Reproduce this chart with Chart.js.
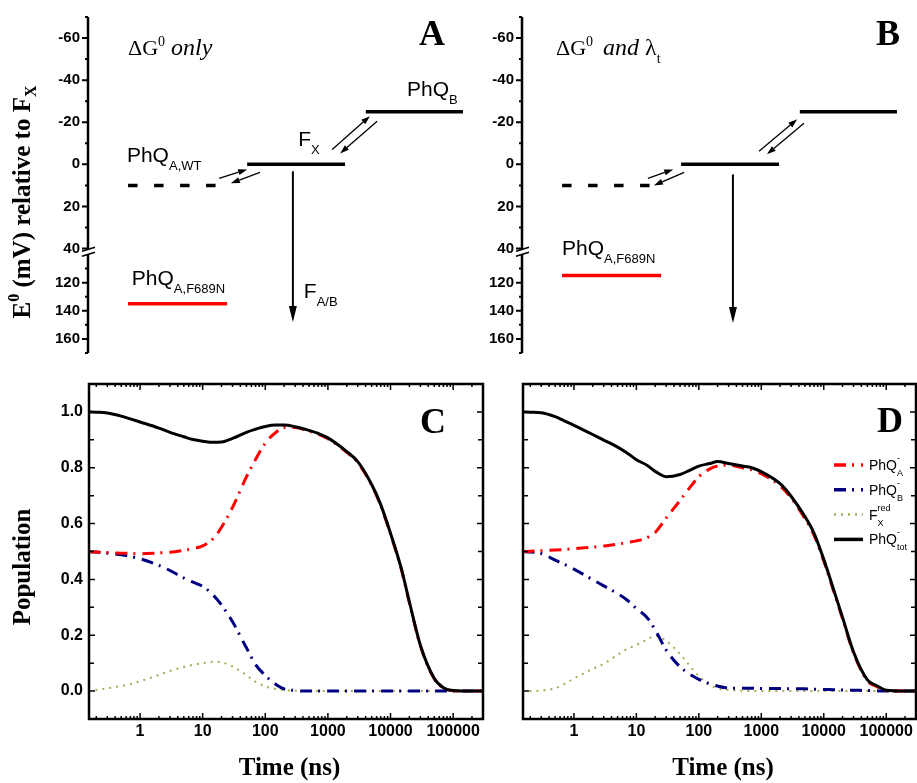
<!DOCTYPE html>
<html>
<head>
<meta charset="utf-8">
<title>PhQ energetics and population kinetics</title>
<script src="https://cdn.jsdelivr.net/npm/chart.js@4.4.1/dist/chart.umd.min.js"></script>
<style>
  html, body { margin: 0; padding: 0; background: #fff; }
  #wrap { position: relative; width: 917px; height: 783px; overflow: hidden; }
  #wrap canvas { position: absolute; }
</style>
</head>
<body>
<div id="wrap">
  <canvas id="panelA" width="466" height="365" style="left:0;top:0"></canvas>
  <canvas id="panelB" width="451" height="365" style="left:466px;top:0"></canvas>
  <canvas id="panelC" width="490" height="418" style="left:0;top:365px"></canvas>
  <canvas id="panelD" width="427" height="418" style="left:490px;top:365px"></canvas>
</div>
<script>
// ---- energy diagrams (A, B) ----
// reaction coordinate 0..10 of each level's ends (same in A and B)
const levelNames = [['PhQ', 'A,WT'], ['F', 'X'], ['PhQ', 'B'], ['PhQ', 'A,F689N']];
const levelFrom = [1.06, 4.21, 7.35, 1.06];
const levelTo = [3.40, 6.80, 9.92, 3.68];
const energyA = [10, 0, -25, 135];   // mV relative to F_X, dG0 only
const energyB = [10, 0, -25, 115];   // mV, dG0 and lambda_t
const eTicksUpper = [-60, -40, -20, 0, 20, 40];
const eTicksLower = [120, 140, 160];
// small equilibrium arrows: [x1, E1, x2, E2]
const arrowsA = [[3.47, 6.7, 4.21, 2.4], [4.55, 3.8, 3.78, 9.0], [6.46, -7.1, 7.46, -22.9], [7.65, -20.5, 6.67, -5.2]];
const arrowsB = [[3.33, 6.7, 4.00, 2.4], [4.29, 3.8, 3.49, 10.0], [6.27, -6.2, 7.28, -21.4], [7.46, -19.5, 6.48, -4.8]];
// forward transfer to F_A/B: [x, E start, E end]
const transferA = [5.42, 3.3, 148];
const transferB = [5.58, 4.8, 148.6];

// ---- population kinetics (C, D) ----
const timeNs = [0.15, 0.2, 0.3, 0.5, 0.7, 1, 2, 3, 5, 7, 10, 15, 20, 30, 50, 70, 100, 150, 200, 300,
  500, 700, 1000, 2000, 3000, 5000, 7000, 10000, 15000, 20000, 30000, 50000, 70000, 100000, 200000, 300000];
const seriesMain = ['PhQ', 'PhQ', 'F', 'PhQ'];
const seriesSub = ['A', 'B', 'X', 'tot'];
const seriesSup = ['-', '-', 'red', '-'];

const phqA_C = [0.500, 0.498, 0.496, 0.494, 0.493, 0.492, 0.495, 0.497, 0.504, 0.510, 0.520, 0.548, 0.587, 0.658, 0.767, 0.830, 0.888, 0.928, 0.944, 0.944,
  0.931, 0.920, 0.904, 0.855, 0.819, 0.737, 0.664, 0.562, 0.433, 0.317, 0.162, 0.044, 0.011, 0.001, 0, 0];
const phqB_C = [0.500, 0.498, 0.494, 0.488, 0.482, 0.474, 0.450, 0.432, 0.405, 0.390, 0.375, 0.342, 0.308, 0.248, 0.155, 0.095, 0.056, 0.023, 0.008, 0.002,
  0, 0, 0, 0, 0, 0, 0, 0, 0, 0, 0, 0, 0, 0, 0, 0];
const fx_C = [0, 0.004, 0.010, 0.018, 0.025, 0.035, 0.058, 0.072, 0.086, 0.094, 0.100, 0.105, 0.103, 0.088, 0.057, 0.033, 0.017, 0.007, 0.003, 0.001,
  0, 0, 0, 0, 0, 0, 0, 0, 0, 0, 0, 0, 0, 0, 0, 0];
const tot_C = [1.000, 0.999, 0.996, 0.985, 0.975, 0.964, 0.942, 0.927, 0.911, 0.901, 0.895, 0.891, 0.892, 0.905, 0.927, 0.938, 0.948, 0.953, 0.953, 0.947,
  0.934, 0.923, 0.907, 0.858, 0.822, 0.740, 0.667, 0.565, 0.436, 0.320, 0.164, 0.045, 0.012, 0.002, 0, 0];

const phqA_D = [0.500, 0.501, 0.503, 0.505, 0.507, 0.510, 0.516, 0.520, 0.526, 0.532, 0.538, 0.550, 0.568, 0.620, 0.683, 0.726, 0.768, 0.796, 0.806, 0.809,
  0.800, 0.793, 0.779, 0.735, 0.692, 0.618, 0.558, 0.466, 0.346, 0.259, 0.136, 0.037, 0.017, 0.002, 0, 0];
const phqB_D = [0.500, 0.498, 0.493, 0.469, 0.454, 0.437, 0.399, 0.377, 0.349, 0.327, 0.296, 0.262, 0.219, 0.147, 0.087, 0.062, 0.042, 0.026, 0.018, 0.011,
  0.010, 0.010, 0.009, 0.009, 0.008, 0.008, 0.007, 0.006, 0.005, 0.004, 0.003, 0.002, 0.001, 0, 0, 0];
const fx_D = [0, 0, 0.002, 0.010, 0.025, 0.045, 0.080, 0.098, 0.130, 0.150, 0.165, 0.185, 0.198, 0.180, 0.133, 0.093, 0.054, 0.022, 0.010, 0.004,
  0.001, 0, 0, 0, 0, 0, 0, 0, 0, 0, 0, 0, 0, 0, 0, 0];
const tot_D = [1.000, 0.999, 0.997, 0.983, 0.968, 0.952, 0.919, 0.899, 0.874, 0.854, 0.829, 0.808, 0.787, 0.768, 0.776, 0.790, 0.806, 0.815, 0.822, 0.815,
  0.806, 0.800, 0.786, 0.743, 0.698, 0.625, 0.565, 0.472, 0.351, 0.264, 0.140, 0.040, 0.020, 0.003, 0, 0];

const timeTicks = [1, 10, 100, 1000, 10000, 100000];
const popTicks = [0, 0.2, 0.4, 0.6, 0.8, 1.0];

// ---- drawing helpers ----
const SANS = '"Liberation Sans", Arial, sans-serif';
const SERIF = '"Liberation Serif", "Times New Roman", serif';
const fs = (px, st = '') => `${st} ${px}px ${SANS}`.trim();
const fr = (px, st = '') => `${st} ${px}px ${SERIF}`.trim();

function drawRich(ctx, runs, x, y, align) {
  let cx = 0, last = 0;
  const items = runs.map(r => {
    ctx.font = r.font;
    const start = r.stack ? last : cx + (r.gap || 0);
    cx = Math.max(cx, start + ctx.measureText(r.text).width);
    last = start;
    return [r, start];
  });
  const x0 = align === 'center' ? x - cx / 2 : align === 'right' ? x - cx : x;
  ctx.textAlign = 'left';
  ctx.textBaseline = 'alphabetic';
  items.forEach(([r, s]) => { ctx.font = r.font; ctx.fillText(r.text, x0 + s, y + (r.dy || 0)); });
}

function arrow(ctx, x1, y1, x2, y2, head, hw, lw) {
  const a = Math.atan2(y2 - y1, x2 - x1);
  const bx = x2 - head * Math.cos(a), by = y2 - head * Math.sin(a);
  ctx.lineWidth = lw;
  ctx.beginPath(); ctx.moveTo(x1, y1); ctx.lineTo(bx, by); ctx.stroke();
  ctx.beginPath();
  ctx.moveTo(x2, y2);
  ctx.lineTo(bx + hw / 2 * Math.sin(a), by - hw / 2 * Math.cos(a));
  ctx.lineTo(bx - hw / 2 * Math.sin(a), by + hw / 2 * Math.cos(a));
  ctx.closePath(); ctx.fill();
}

const levelLabel = (name) => [{text: name[0], font: fs(21)}, {text: name[1], font: fs(13), dy: 8}];

const energyDecor = {
  id: 'energyDecor',
  afterDatasetsDraw(chart, args, o) {
    const {ctx, chartArea: a, scales: {x, yUp, yLow}} = chart;
    const py = (e) => (e > yUp.max ? yLow : yUp).getPixelForValue(e);
    ctx.save();
    ctx.strokeStyle = '#000';
    ctx.fillStyle = '#000';
    // axis line with break between the segments
    const ax = a.left, brk = yUp.bottom;
    ctx.lineWidth = 2.5;
    ctx.beginPath();
    ctx.moveTo(ax, a.top); ctx.lineTo(ax, brk - 2.5);
    ctx.moveTo(ax, brk + 2.5); ctx.lineTo(ax, a.bottom);
    ctx.stroke();
    ctx.lineWidth = 1.5;
    for (const d of [-2.5, 2.5]) {
      ctx.beginPath(); ctx.moveTo(ax - 6, brk + d + 2); ctx.lineTo(ax + 7, brk + d - 2); ctx.stroke();
    }
    // outward ticks every 10 mV
    ctx.lineWidth = 2;
    ctx.beginPath();
    const ticks = [];
    for (let v = -70; v <= 40; v += 10) ticks.push([yUp, v]);
    for (let v = 110; v <= 170; v += 10) ticks.push([yLow, v]);
    ticks.forEach(([sc, v]) => {
      const p = sc.getPixelForValue(v), len = v % 20 === 0 ? 6 : 3;
      ctx.moveTo(ax - len, p); ctx.lineTo(ax, p);
    });
    ctx.stroke();
    // arrows
    o.arrows.forEach(([x1, e1, x2, e2]) =>
      arrow(ctx, x.getPixelForValue(x1), py(e1), x.getPixelForValue(x2), py(e2), 9, 6, 1.3));
    const [tx, t1, t2] = o.transfer;
    arrow(ctx, x.getPixelForValue(tx), yUp.getPixelForValue(t1), x.getPixelForValue(tx), yLow.getPixelForValue(t2), 16, 8, 2);
    // level labels
    o.labels.forEach(l => drawRich(ctx, levelLabel(l.name), x.getPixelForValue(l.x), py(l.e)));
    // heading and panel letter
    drawRich(ctx, o.heading, o.headX, 55);
    ctx.font = fr(36, 'bold');
    ctx.textAlign = 'right';
    ctx.fillText(o.letter, o.letterX, 45);
    if (o.yTitle) {
      ctx.save();
      ctx.translate(30, 202);
      ctx.rotate(-Math.PI / 2);
      drawRich(ctx, [{text: 'E', font: fr(25, 'bold')}, {text: '0', font: fr(16, 'bold'), dy: -11},
        {text: ' (mV) relative to F', font: fr(25, 'bold')}, {text: 'X', font: fr(16, 'bold'), dy: 6}], 0, 0, 'center');
      ctx.restore();
    }
    ctx.restore();
  }
};

function energyChart(id, energies, arrows, transfer, cfg) {
  const datasets = levelNames.map((name, i) => ({
    label: name.join('_'),
    data: [{x: levelFrom[i], y: energies[i]}, {x: levelTo[i], y: energies[i]}],
    yAxisID: energies[i] > 41.5 ? 'yLow' : 'yUp',
    borderColor: i === 3 ? '#ff0000' : '#000000',
    borderDash: i === 0 ? [9.5, 16.5] : [],
    borderWidth: 3.5,
    borderCapStyle: 'butt',
    pointRadius: 0
  }));
  const eScale = (min, max, stackWeight, weight, list) => ({
    type: 'linear', position: 'left', stack: 'energy', stackWeight, weight,
    reverse: true, min, max,
    grid: {display: false, drawTicks: false},
    border: {display: false},
    afterBuildTicks: s => { s.ticks = list.map(v => ({value: v})); },
    afterFit: s => { s.width = cfg.axisWidth; s.paddingTop = 0; s.paddingBottom = 0; },
    ticks: {padding: 8, color: '#000', font: {family: SANS, size: 15, weight: 'bold'}}
  });
  return new Chart(document.getElementById(id), {
    type: 'line',
    data: {datasets},
    options: {
      responsive: false, animation: false, events: [],
      layout: {padding: {left: 0, top: 17, right: cfg.padRight, bottom: 12}},
      scales: {
        x: {type: 'linear', display: false, min: 0, max: 10},
        yUp: eScale(-70, 41.5, 234, 2, eTicksUpper),
        yLow: eScale(98, 170, 101, 1, eTicksLower)
      },
      plugins: {
        legend: {display: false}, tooltip: {enabled: false},
        energyDecor: {arrows, transfer, labels: cfg.labels, heading: cfg.heading, headX: cfg.headX,
          letter: cfg.letter, letterX: cfg.letterX, yTitle: cfg.yTitle}
      }
    },
    plugins: [energyDecor]
  });
}

energyChart('panelA', energyA, arrowsA, transferA, {
  axisWidth: 88, padRight: 0, letter: 'A', letterX: 445, yTitle: true, headX: 128,
  heading: [{text: '\u0394G', font: fr(22)}, {text: '0', font: fr(14), dy: -9}, {text: ' only', font: fr(24, 'italic')}],
  labels: [
    {name: levelNames[0], x: 1.03, e: -1},
    {name: levelNames[1], x: 5.56, e: -8.6},
    {name: levelNames[2], x: 8.44, e: -32.4},
    {name: levelNames[3], x: 1.16, e: 122},
    {name: ['F', 'A/B'], x: 5.71, e: 130.7}
  ]
});
energyChart('panelB', energyB, arrowsB, transferB, {
  axisWidth: 56, padRight: 17, letter: 'B', letterX: 434, yTitle: false, headX: 90,
  heading: [{text: '\u0394G', font: fr(22)}, {text: '0', font: fr(14), dy: -9}, {text: 'and', font: fr(24, 'italic'), gap: 10},
    {text: ' \u03bb', font: fr(24)}, {text: 't', font: fr(14), dy: 8}],
  labels: [{name: levelNames[3], x: 1.06, e: 100}]
});

// ---- kinetics ----
const kinDecor = {
  id: 'kinDecor',
  afterDraw(chart, args, o) {
    const {ctx, chartArea: a, scales: {x, y}} = chart;
    ctx.save();
    ctx.strokeStyle = '#000';
    ctx.fillStyle = '#000';
    // inward ticks on all four sides
    ctx.lineWidth = 1.5;
    ctx.beginPath();
    for (let d = -1; d <= 5; d++) {
      for (let m = 1; m <= 9; m++) {
        const v = m * Math.pow(10, d);
        if (v < x.min || v > x.max) continue;
        const px = x.getPixelForValue(v), len = m === 1 ? 6 : 3;
        ctx.moveTo(px, a.bottom); ctx.lineTo(px, a.bottom - len);
        ctx.moveTo(px, a.top); ctx.lineTo(px, a.top + len);
      }
    }
    for (let k = -1; k <= 11; k++) {
      const p = y.getPixelForValue(k / 10), len = k % 2 === 0 ? 6 : 5;
      ctx.moveTo(a.left, p); ctx.lineTo(a.left + len, p);
      ctx.moveTo(a.right, p); ctx.lineTo(a.right - len, p);
    }
    ctx.stroke();
    ctx.lineWidth = 2.5;
    ctx.strokeRect(a.left, a.top, a.right - a.left, a.bottom - a.top);
    // axis titles
    ctx.font = fr(25, 'bold');
    ctx.textAlign = 'center';
    ctx.textBaseline = 'alphabetic';
    ctx.fillText('Time (ns)', (a.left + a.right) / 2 + 3.5, 410);
    if (o.yTitle) {
      ctx.save();
      ctx.translate(30, (a.top + a.bottom) / 2 + 15.5);
      ctx.rotate(-Math.PI / 2);
      ctx.fillText('Population', 0, 0);
      ctx.restore();
    }
    // panel letter
    ctx.font = fr(36, 'bold');
    ctx.textAlign = 'right';
    ctx.fillText(o.letter, o.letterX, o.letterY);
    // legend
    if (o.legend) {
      chart.data.datasets.forEach((ds, i) => {
        const ly = a.top + 81 + i * 24.8;
        ctx.save();
        ctx.strokeStyle = ds.borderColor;
        ctx.lineWidth = ds.borderWidth + 0.5;
        ctx.setLineDash(ds.borderDash);
        ctx.beginPath(); ctx.moveTo(a.right - 82, ly); ctx.lineTo(a.right - 53, ly); ctx.stroke();
        ctx.restore();
        drawRich(ctx, [{text: seriesMain[i], font: fs(14)}, {text: seriesSub[i], font: fs(9), dy: 6},
          {text: seriesSup[i], font: fs(9), dy: -9, stack: true}], a.right - 47, ly + 5);
      });
    }
    ctx.restore();
  }
};

function kineticsChart(id, series, cfg) {
  const styles = [
    {color: '#ff0000', dash: [12, 6, 2, 7], width: 3, order: 1},
    {color: '#000080', dash: [12, 6, 2, 7], width: 3, order: 2},
    {color: '#aaaa55', dash: [2, 5], width: 2, order: 3},
    {color: '#000000', dash: [], width: 3, order: 0}
  ];
  const datasets = series.map((vals, i) => ({
    label: seriesMain[i] + seriesSub[i] + seriesSup[i],
    data: timeNs.map((t, k) => ({x: t, y: vals[k]})),
    borderColor: styles[i].color,
    borderDash: styles[i].dash,
    borderWidth: styles[i].width,
    order: styles[i].order,
    cubicInterpolationMode: 'monotone',
    pointRadius: 0
  }));
  const tickFont = {family: SANS, size: 16, weight: 'bold'};
  return new Chart(document.getElementById(id), {
    type: 'line',
    data: {datasets},
    options: {
      responsive: false, animation: false, events: [],
      layout: {padding: {left: 0, top: 19, right: cfg.padRight, bottom: 0}},
      scales: {
        x: {
          type: 'logarithmic', min: 0.153, max: 3e5,
          grid: {display: false, drawTicks: false}, border: {display: false},
          afterBuildTicks: s => { s.ticks = timeTicks.map(v => ({value: v})); },
          afterFit: s => { s.height = 64; s.paddingLeft = 0; s.paddingRight = 0; },
          ticks: {padding: 3, color: '#000', font: tickFont, maxRotation: 0, autoSkip: false, callback: v => String(v)}
        },
        y: {
          type: 'linear', min: -0.1, max: 1.1,
          grid: {display: false, drawTicks: false}, border: {display: false},
          afterBuildTicks: s => { s.ticks = popTicks.map(v => ({value: v})); },
          afterFit: s => { s.width = cfg.axisWidth; s.paddingTop = 0; s.paddingBottom = 0; },
          ticks: {display: cfg.yLabels, padding: 6, color: '#000', font: tickFont, callback: v => v.toFixed(1)}
        }
      },
      plugins: {
        legend: {display: false}, tooltip: {enabled: false},
        kinDecor: {letter: cfg.letter, letterX: cfg.letterX, letterY: cfg.letterY, yTitle: cfg.yLabels, legend: cfg.legend}
      }
    },
    plugins: [kinDecor]
  });
}

kineticsChart('panelC', [phqA_C, phqB_C, fx_C, tot_C],
  {padRight: 7, axisWidth: 89, yLabels: true, legend: false, letter: 'C', letterX: 446, letterY: 68});
kineticsChart('panelD', [phqA_D, phqB_D, fx_D, tot_D],
  {padRight: 1, axisWidth: 33, yLabels: false, legend: true, letter: 'D', letterX: 413, letterY: 67});
</script>
</body>
</html>
